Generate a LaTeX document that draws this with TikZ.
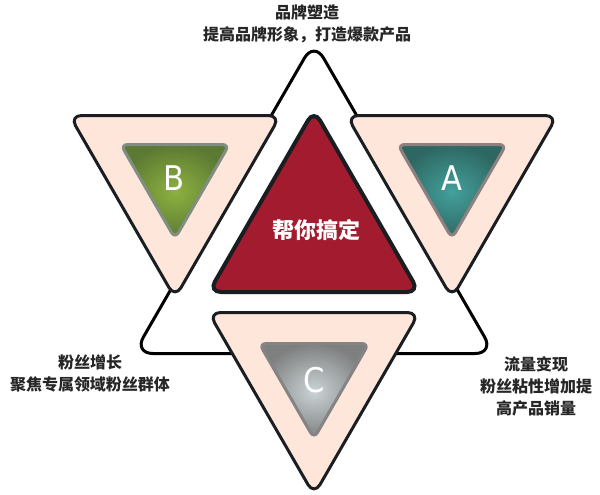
\documentclass[tikz,border=0pt]{standalone}
\usepackage{fontspec}
\newfontfamily\cjk{Noto Sans CJK SC}
\newfontfamily\letterfont{DejaVu Sans Condensed}
\definecolor{peach}{HTML}{FEE6DA}
\definecolor{core}{HTML}{A21B2F}
\definecolor{rim}{HTML}{1A1E22}
\definecolor{greenin}{HTML}{8DB140}
\definecolor{greenout}{HTML}{5C7A33}
\definecolor{tealin}{HTML}{43A09C}
\definecolor{tealout}{HTML}{2E6762}
\definecolor{grayin}{HTML}{CBD3D6}
\definecolor{grayout}{HTML}{7E8080}
\begin{document}
\begin{tikzpicture}[x=1pt,y=-1pt,
  outer/.style={draw=rim,line width=3pt,fill=peach,rounded corners=12pt},
  inner/.style={line width=3pt,rounded corners=7pt},
  letter/.style={text=white,font=\letterfont\fontsize{34}{34}\selectfont},
  caption/.style={align=center,text=black!85,font=\cjk\bfseries\fontsize{16}{22}\selectfont}]
\useasboundingbox (0,0) rectangle (600,495);

% big frame
\draw[line width=3pt,fill=white,rounded corners=19pt]
  (314,41.5) -- (494.1,353.5) -- (133.9,353.5) -- cycle;

% three outer triangles
\draw[outer] (69.6,115.5) -- (280.4,115.5) -- (175,298) -- cycle;
\draw[outer] (346.6,115.5) -- (557.4,115.5) -- (452,298) -- cycle;
\draw[outer] (208.6,312.5) -- (419.4,312.5) -- (314,495) -- cycle;

% centre
\draw[draw=rim,line width=4pt,fill=core,rounded corners=12pt]
  (314,110) -- (419.1,292) -- (208.9,292) -- cycle;

% inner triangles
\draw[inner,draw=black!45!green!10!gray!90,inner color=greenin,outer color=greenout]
  (120.7,144.5) -- (229.3,144.5) -- (175,238.5) -- cycle;
\draw[inner,draw={rgb,255:red,140;green,128;blue,128},inner color=tealin,outer color=tealout]
  (397.7,144.5) -- (506.3,144.5) -- (452,238.5) -- cycle;
\draw[inner,draw={rgb,255:red,133;green,131;blue,131},inner color=grayin,outer color=grayout]
  (259.2,343.5) -- (368.8,343.5) -- (314,438.5) -- cycle;

\node[letter] (B) at (174,178) {B};
\node[letter] (A) at (452,178) {A};
\node[letter] (C) at (314,380) {C};

\node[text=white,font=\cjk\bfseries\fontsize{22}{22}\selectfont] (mid) at (316,230) {帮你搞定};

\node[caption] (brand) at (307,24) {品牌塑造\\提高品牌形象，打造爆款产品};
\node[caption] (fans) at (90,373) {粉丝增长\\聚焦专属领域粉丝群体};
\node[caption] (cash) at (536,386) {流量变现\\粉丝粘性增加提\\高产品销量};

\end{tikzpicture}
\end{document}
